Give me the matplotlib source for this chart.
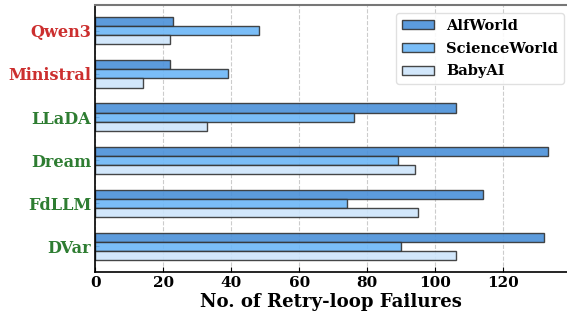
import numpy as np
import matplotlib.pyplot as plt

# Data
models = ["Qwen3", "Ministral", "LLaDA", "Dream", "FdLLM", "DVar"]
label_colors = ["#cc2f2f", "#cc2f2f", "#2e7d32", "#2e7d32", "#2e7d32", "#2e7d32"]
alfworld = [23, 22, 106, 133, 114, 132]
scienceworld = [48, 39, 76, 89, 74, 90]
babyai = [22, 14, 33, 94, 95, 106]

series = [("AlfWorld", alfworld, "#4a90d9"),
          ("ScienceWorld", scienceworld, "#6cb6f7"),
          ("BabyAI", babyai, "#cde5fb")]

plt.rcParams['font.family'] = 'DejaVu Serif'
plt.rcParams['font.weight'] = 'bold'

fig, ax = plt.subplots(figsize=(5.67, 3.16), dpi=100)
fig.subplots_adjust(left=0.168, right=1.0, top=0.984, bottom=0.139)

y = np.arange(len(models))
h = 0.21
for i, (name, vals, col) in enumerate(series):
    ax.barh(y + (i - 1) * h, vals, height=h, color=col, alpha=0.9,
            edgecolor=(0.2, 0.2, 0.2, 0.7), linewidth=1.0, label=name, zorder=2)

ax.set_yticks(y)
ax.set_yticklabels(models)
for lbl, c in zip(ax.get_yticklabels(), label_colors):
    lbl.set_color(c)
    lbl.set_fontweight('bold')
    lbl.set_fontsize(11.6)
ax.set_ylim(len(models) - 0.4, -0.6)
ax.set_xlim(0, 138.7)
ax.set_xticks([0, 20, 40, 60, 80, 100, 120])
for lbl in ax.get_xticklabels():
    lbl.set_fontweight('bold')
    lbl.set_fontsize(11)
ax.tick_params(axis='x', direction='in', pad=3)
ax.tick_params(axis='y', direction='in', length=3, pad=3)
ax.set_xlabel("No. of Retry-loop Failures", fontsize=13.1, fontweight='bold',
              labelpad=2)

ax.grid(axis='x', linestyle='--', color='#cccccc', linewidth=0.8, zorder=0)
ax.set_axisbelow(True)
ax.spines['right'].set_visible(False)
ax.spines['top'].set_color('#777777')
ax.spines['top'].set_linewidth(1.5)
ax.spines['left'].set_linewidth(1.2)
ax.spines['bottom'].set_linewidth(1.2)

leg = ax.legend(loc='upper right', bbox_to_anchor=(0.993, 0.97), borderaxespad=0,
                framealpha=0.9, handlelength=2.2, handleheight=0.6,
                handletextpad=0.85, labelspacing=0.6,
                prop={'family': 'DejaVu Serif', 'weight': 'bold', 'size': 10.5})
leg.get_frame().set_edgecolor('#dddddd')

plt.savefig("out.png", dpi=100)
